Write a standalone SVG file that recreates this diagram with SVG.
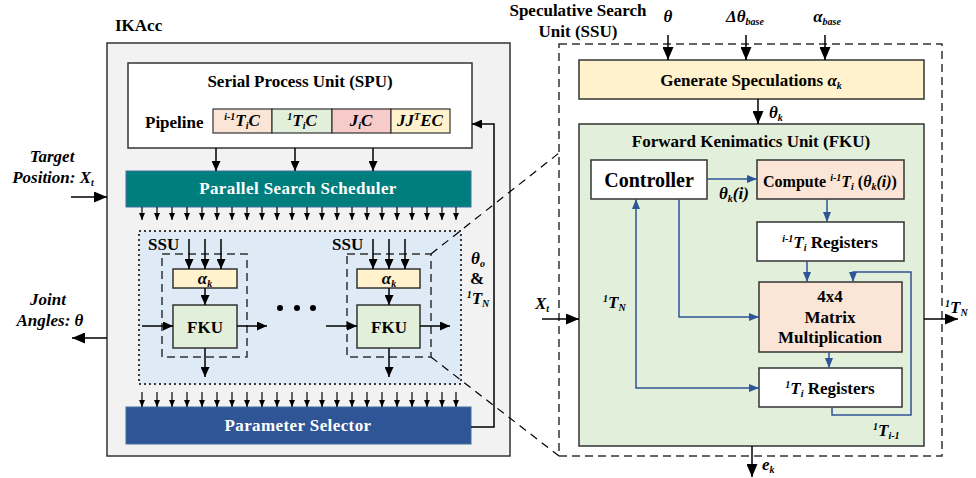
<svg xmlns="http://www.w3.org/2000/svg" width="976" height="478" viewBox="0 0 976 478">
<style>
.t{font-family:"Liberation Serif","Times New Roman",serif;font-weight:bold;font-size:17px;fill:#000}
.i{font-style:italic}
.w{fill:#fff}
.m{text-anchor:middle}
.sp{font-size:10px}
.ln{stroke:#000;stroke-width:1.5;fill:none}
.bl{stroke:#2f5597;stroke-width:1.5;fill:none}
.bx{stroke:#333;stroke-width:1.5}
.dsh{stroke:#333;stroke-width:1.5;fill:none;stroke-dasharray:8,5}
.zl{stroke:#000;stroke-width:1.2;fill:none;stroke-dasharray:8,6}
</style>
<defs>
<marker id="ab" viewBox="0 0 10 10" refX="10" refY="5" markerUnits="userSpaceOnUse" markerWidth="13" markerHeight="11" orient="auto" preserveAspectRatio="none"><path d="M0,0 L10,5 L0,10 z" fill="#000"/></marker>
<marker id="am" viewBox="0 0 10 10" refX="10" refY="5" markerUnits="userSpaceOnUse" markerWidth="10" markerHeight="9" orient="auto" preserveAspectRatio="none"><path d="M0,0 L10,5 L0,10 z" fill="#000"/></marker>
<marker id="as" viewBox="0 0 10 10" refX="10" refY="5" markerUnits="userSpaceOnUse" markerWidth="7" markerHeight="6" orient="auto" preserveAspectRatio="none"><path d="M0,0 L10,5 L0,10 z" fill="#000"/></marker>
<marker id="bb" viewBox="0 0 10 10" refX="10" refY="5" markerUnits="userSpaceOnUse" markerWidth="10" markerHeight="8" orient="auto-start-reverse" preserveAspectRatio="none"><path d="M0,0 L10,5 L0,10 z" fill="#2f5597"/></marker>
</defs>
<rect width="976" height="478" fill="#fff"/>

<g id="ikacc">
<rect x="107" y="43" width="403" height="413" fill="#f2f2f2" stroke="#333" stroke-width="1.5"/>
<text class="t" x="115" y="31">IKAcc</text>
</g>

<g id="spu">
<rect x="128" y="63" width="344" height="85" fill="#fff" class="bx"/>
<text class="t m" x="300" y="87">Serial Process Unit (SPU)</text>
<text class="t" x="145" y="128">Pipeline</text>
<rect x="213" y="109" width="59" height="24" fill="#fbe5d6" stroke="#333" stroke-width="1.2"/>
<rect x="272" y="109" width="60" height="24" fill="#e2efda" stroke="#333" stroke-width="1.2"/>
<rect x="332" y="109" width="59" height="24" fill="#f8cbcb" stroke="#333" stroke-width="1.2"/>
<rect x="391" y="109" width="59" height="24" fill="#fff2cc" stroke="#333" stroke-width="1.2"/>
<text class="t i m" x="242" y="126"><tspan class="sp" dy="-6">i-1</tspan><tspan dy="6">T</tspan><tspan class="sp" dy="3">i</tspan><tspan dy="-3">C</tspan></text>
<text class="t i m" x="302" y="126"><tspan class="sp" dy="-6">1</tspan><tspan dy="6">T</tspan><tspan class="sp" dy="3">i</tspan><tspan dy="-3">C</tspan></text>
<text class="t i m" x="361" y="126">J<tspan class="sp" dy="3">i</tspan><tspan dy="-3">C</tspan></text>
<text class="t i m" x="420" y="126">JJ<tspan class="sp" dy="-6">T</tspan><tspan dy="6">EC</tspan></text>
</g>

<g id="pss">
<rect x="126" y="171" width="345" height="36" fill="#007d7d" stroke="#41719c" stroke-width="1"/>
<text class="t w m" x="298" y="194" letter-spacing="0.4">Parallel Search Scheduler</text>
</g>

<g id="search-array">
<rect x="139" y="231" width="322" height="153" fill="#deebf7" stroke="#000" stroke-width="1.5" stroke-dasharray="2,3"/>
<text class="t i m" x="478" y="264">θ<tspan class="sp" dy="3">o</tspan></text>
<text class="t m" x="477" y="284">&amp;</text>
<text class="t i m" x="478" y="304"><tspan class="sp" dy="-6">1</tspan><tspan dy="6">T</tspan><tspan class="sp" dy="3">N</tspan></text>
<circle cx="280" cy="308" r="3" fill="#000"/>
<circle cx="297" cy="308" r="3" fill="#000"/>
<circle cx="313" cy="308" r="3" fill="#000"/>
</g>

<g id="ssu-1">
<rect x="162" y="254" width="85" height="103" class="dsh"/>
<text class="t" x="148" y="250">SSU</text>
<rect x="173" y="269" width="64" height="19" fill="#fff2cc" class="bx"/>
<text class="t i m" x="205" y="284">α<tspan class="sp" dy="3">k</tspan></text>
<rect x="173" y="305" width="64" height="43" fill="#e2efda" class="bx"/>
<text class="t m" x="205" y="333">FKU</text>
</g>

<g id="ssu-2">
<rect x="347" y="254" width="84" height="103" class="dsh"/>
<text class="t" x="332" y="250">SSU</text>
<rect x="357" y="269" width="63" height="19" fill="#fff2cc" class="bx"/>
<text class="t i m" x="389" y="284">α<tspan class="sp" dy="3">k</tspan></text>
<rect x="357" y="305" width="63" height="43" fill="#e2efda" class="bx"/>
<text class="t m" x="389" y="333">FKU</text>
</g>

<g id="ps">
<rect x="126" y="407" width="345" height="37" fill="#2f5597" stroke="#41719c" stroke-width="1"/>
<text class="t w m" x="298" y="431" letter-spacing="0.4">Parameter Selector</text>
</g>

<g id="io-left">
<text class="t i m" x="52" y="162">Target</text>
<text class="t i m" x="53" y="183">Position: X<tspan class="sp" dy="3">t</tspan></text>
<text class="t i m" x="48" y="305">Joint</text>
<text class="t i m" x="50" y="326">Angles: θ</text>
</g>

<g id="ssu-detail">
<rect x="559" y="44" width="383" height="412" class="dsh"/>
<text class="t m" x="578" y="16">Speculative Search</text>
<text class="t m" x="578" y="37">Unit (SSU)</text>
<text class="t i m" x="668" y="22">θ</text>
<text class="t i m" x="745" y="22">Δθ<tspan class="sp" dy="3">base</tspan></text>
<text class="t i m" x="827" y="22">α<tspan class="sp" dy="3">base</tspan></text>
</g>

<g id="gen">
<rect x="579" y="60" width="345" height="39" fill="#fff2cc" class="bx"/>
<text class="t m" x="751" y="86">Generate Speculations <tspan class="i">α</tspan><tspan class="i sp" dy="3">k</tspan></text>
</g>

<g id="fku">
<rect x="579" y="124" width="345" height="322" fill="#e2efda" class="bx"/>
<text class="t m" x="751" y="147">Forward Kenimatics Unit (FKU)</text>
</g>

<g id="controller">
<rect x="591" y="160" width="116" height="39" fill="#fff" class="bx"/>
<text class="t m" x="649" y="187" style="font-size:20px">Controller</text>
</g>

<g id="compute">
<rect x="757" y="160" width="147" height="39" fill="#fbe5d6" class="bx"/>
<text class="t m" x="830" y="187" style="font-size:16px">Compute <tspan class="i sp" dy="-6">i-1</tspan><tspan class="i" dy="6">T</tspan><tspan class="i sp" dy="3">i</tspan><tspan dy="-3"> (</tspan><tspan class="i">θ</tspan><tspan class="i sp" dy="3">k</tspan><tspan class="i" dy="-3">(i)</tspan>)</text>
</g>

<g id="reg-local">
<rect x="757" y="222" width="147" height="39" fill="#fff" class="bx"/>
<text class="t m" x="830" y="248"><tspan class="i sp" dy="-6">i-1</tspan><tspan class="i" dy="6">T</tspan><tspan class="i sp" dy="3">i</tspan><tspan dy="-3"> Registers</tspan></text>
</g>

<g id="matrix">
<rect x="759" y="282" width="143" height="70" fill="#fbe5d6" class="bx"/>
<text class="t m" x="830" y="302">4x4</text>
<text class="t m" x="830" y="323">Matrix</text>
<text class="t m" x="830" y="343">Multiplication</text>
</g>

<g id="reg-global">
<rect x="759" y="368" width="143" height="39" fill="#fff" class="bx"/>
<text class="t m" x="830" y="394"><tspan class="i sp" dy="-6">1</tspan><tspan class="i" dy="6">T</tspan><tspan class="i sp" dy="3">i</tspan><tspan dy="-3"> Registers</tspan></text>
</g>

<g id="labels-right">
<text class="t i" x="719" y="199">θ<tspan class="sp" dy="3">k</tspan><tspan dy="-3">(i)</tspan></text>
<text class="t i" x="769" y="118">θ<tspan class="sp" dy="3">k</tspan></text>
<text class="t i" x="603" y="308"><tspan class="sp" dy="-6">1</tspan><tspan dy="6">T</tspan><tspan class="sp" dy="3">N</tspan></text>
<text class="t i" x="535" y="309">X<tspan class="sp" dy="3">t</tspan></text>
<text class="t i" x="945" y="313"><tspan class="sp" dy="-6">1</tspan><tspan dy="6">T</tspan><tspan class="sp" dy="3">N</tspan></text>
<text class="t i" x="873" y="436"><tspan class="sp" dy="-6">1</tspan><tspan dy="6">T</tspan><tspan class="sp" dy="3">i-1</tspan></text>
<text class="t i" x="762" y="470">e<tspan class="sp" dy="3">k</tspan></text>
</g>

<g id="connectors">
<line class="ln" x1="71" y1="197" x2="107" y2="197" marker-end="url(#ab)"/>
<line class="ln" x1="107" y1="338" x2="72" y2="338" marker-end="url(#ab)"/>
<line class="ln" x1="216" y1="148" x2="216" y2="171" marker-end="url(#am)"/>
<line class="ln" x1="295" y1="148" x2="295" y2="171" marker-end="url(#am)"/>
<line class="ln" x1="373" y1="148" x2="373" y2="171" marker-end="url(#am)"/>
<path class="ln" d="M471,427 H494 V124 H472" marker-end="url(#am)"/>
<g stroke="#000" stroke-width="1.2" marker-end="url(#as)">
<line x1="142" y1="207" x2="142" y2="220"/><line x1="157" y1="207" x2="157" y2="220"/><line x1="172" y1="207" x2="172" y2="220"/><line x1="187" y1="207" x2="187" y2="220"/><line x1="202" y1="207" x2="202" y2="220"/><line x1="217" y1="207" x2="217" y2="220"/><line x1="232" y1="207" x2="232" y2="220"/><line x1="247" y1="207" x2="247" y2="220"/><line x1="262" y1="207" x2="262" y2="220"/><line x1="277" y1="207" x2="277" y2="220"/><line x1="292" y1="207" x2="292" y2="220"/><line x1="307" y1="207" x2="307" y2="220"/><line x1="322" y1="207" x2="322" y2="220"/><line x1="337" y1="207" x2="337" y2="220"/><line x1="352" y1="207" x2="352" y2="220"/><line x1="367" y1="207" x2="367" y2="220"/><line x1="382" y1="207" x2="382" y2="220"/><line x1="397" y1="207" x2="397" y2="220"/><line x1="412" y1="207" x2="412" y2="220"/><line x1="427" y1="207" x2="427" y2="220"/><line x1="442" y1="207" x2="442" y2="220"/><line x1="456" y1="207" x2="456" y2="220"/>
<line x1="142" y1="392" x2="142" y2="407"/><line x1="157" y1="392" x2="157" y2="407"/><line x1="172" y1="392" x2="172" y2="407"/><line x1="187" y1="392" x2="187" y2="407"/><line x1="202" y1="392" x2="202" y2="407"/><line x1="217" y1="392" x2="217" y2="407"/><line x1="232" y1="392" x2="232" y2="407"/><line x1="247" y1="392" x2="247" y2="407"/><line x1="262" y1="392" x2="262" y2="407"/><line x1="277" y1="392" x2="277" y2="407"/><line x1="292" y1="392" x2="292" y2="407"/><line x1="307" y1="392" x2="307" y2="407"/><line x1="322" y1="392" x2="322" y2="407"/><line x1="337" y1="392" x2="337" y2="407"/><line x1="352" y1="392" x2="352" y2="407"/><line x1="367" y1="392" x2="367" y2="407"/><line x1="382" y1="392" x2="382" y2="407"/><line x1="397" y1="392" x2="397" y2="407"/><line x1="412" y1="392" x2="412" y2="407"/><line x1="427" y1="392" x2="427" y2="407"/><line x1="442" y1="392" x2="442" y2="407"/><line x1="456" y1="392" x2="456" y2="407"/>
</g>
<g class="ln" marker-end="url(#am)">
<line x1="189" y1="239" x2="189" y2="269"/><line x1="205" y1="239" x2="205" y2="269"/><line x1="221" y1="239" x2="221" y2="269"/>
<line x1="205" y1="288" x2="205" y2="305"/>
<line x1="142" y1="326" x2="173" y2="326"/>
<line x1="237" y1="326" x2="267" y2="326"/>
<line x1="205" y1="348" x2="205" y2="377"/>
<line x1="373" y1="239" x2="373" y2="269"/><line x1="389" y1="239" x2="389" y2="269"/><line x1="405" y1="239" x2="405" y2="269"/>
<line x1="389" y1="288" x2="389" y2="305"/>
<line x1="326" y1="326" x2="357" y2="326"/>
<line x1="420" y1="326" x2="450" y2="326"/>
<line x1="389" y1="348" x2="389" y2="377"/>
</g>
<line class="zl" x1="431" y1="254" x2="559" y2="153"/>
<line class="zl" x1="431" y1="357" x2="559" y2="456"/>
<g class="ln" marker-end="url(#ab)">
<line x1="668" y1="35" x2="668" y2="60"/>
<line x1="746" y1="35" x2="746" y2="60"/>
<line x1="825" y1="35" x2="825" y2="60"/>
<line x1="758" y1="99" x2="758" y2="124"/>
<line x1="542" y1="319" x2="579" y2="319"/>
<line x1="924" y1="319" x2="958" y2="319"/>
<line x1="752" y1="446" x2="752" y2="477"/>
</g>
<g class="bl" marker-end="url(#bb)">
<line x1="707" y1="179" x2="757" y2="179"/>
<line x1="827" y1="199" x2="827" y2="222"/>
<line x1="807" y1="261" x2="807" y2="282"/>
<line x1="829" y1="352" x2="829" y2="368"/>
<path d="M679,199 V317 H759"/>
<path d="M636,199 V388 H759" marker-start="url(#bb)"/>
<path d="M832,407 V415 H911 V272 H853 V282"/>
</g>
</g>
</svg>
